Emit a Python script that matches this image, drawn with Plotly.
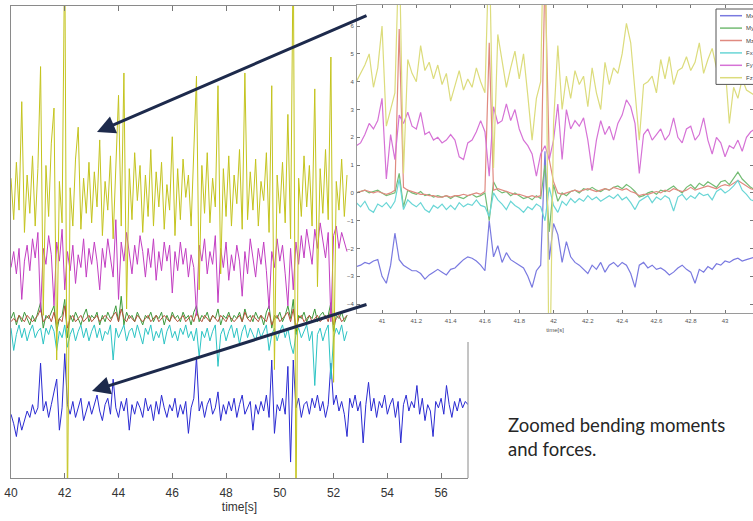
import numpy as np
import plotly.graph_objects as go

W, H = 753, 521

# ---------------- data ----------------
series_names = ["Mx", "My", "Mz", "Fx", "Fy", "Fz"]

# main (overview) chart: sampled every MAIN_DT seconds starting at MAIN_T0
MAIN_T0 = 40.0
MAIN_DT = 0.1
main_ticks = [40, 42, 44, 46, 48, 50, 52, 54, 56]

main_fz = [4.5, 3.2, 5.0, 3.5, 6.9, 2.8, 4.6, 3.4, 5.2, 3.0,
           4.8, 8.0, 0.2, 4.9, 3.3, 5.6, 6.7, -1.2, 4.4, 3.1,
           12.0, -6.0, 4.2, 3.0, 5.1, 6.1, 2.9, 4.5, 3.4, 5.0,
           3.1, 4.7, 3.6, 5.7, 2.7, 4.4, 3.5, 5.2, 2.6, 4.6,
           7.1, 3.0, 7.8, 0.4, 4.8, 3.2, 5.3, 3.8, 4.9, 2.8,
           4.6, 3.3, 5.4, 3.0, 4.7, 3.6, 5.0, 2.9, 4.3, 3.5,
           5.8, 2.7, 4.8, 3.2, 5.1, 3.9, 4.6, 3.0, 5.2, 7.7,
           1.0, 4.9, 3.4, 5.3, 3.1, 4.5, 3.6, 7.4, 1.5, 4.8,
           3.3, 5.2, 3.0, 4.6, 3.7, 5.4, 2.9, 7.8, 3.2, 4.7,
           3.5, 5.1, 3.0, 4.4, 3.8, 5.3, 2.8, 7.4, -1.5, 4.6,
           3.4, 5.0, 3.1, 6.5, 2.6, 12.0, -6.0, 4.5, 3.3, 5.2,
           3.6, 4.9, 3.0, 7.3, 1.1, 4.8, 3.4, 5.4, 3.2, 8.3,
           -1.9, 4.4, 3.5, 5.1, 3.3, 4.6]

main_fy = [1.7, 2.2, 1.5, 2.3, 0.7, 1.9, 2.4, 1.6, 2.6, 2.0,
           2.8, 0.3, 2.3, 1.8, 2.7, 2.1, 0.5, 2.5, 1.9, 2.9,
           1.0, 2.2, 1.6, 2.4, 1.2, 2.1, 1.7, 2.6, 1.4, 2.3,
           1.8, 2.5, 1.9, 1.0, 2.3, 1.7, 2.6, 2.0, 1.4, 3.2,
           0.7, 2.5, 1.9, 2.8, 2.1, 1.5, 2.4, 1.8, 2.7, 2.2,
           1.4, 2.3, 1.7, 2.6, 1.3, 2.2, 1.6, 2.5, 1.9, 2.4,
           0.9, 2.2, 1.6, 2.5, 1.8, 2.3, 1.4, 2.1, 1.7, 0.2,
           2.4, 1.9, 2.6, 1.5, 2.2, 1.8, 2.7, 0.6, 2.3, 1.7,
           2.5, 1.3, 2.1, 1.6, 2.4, 1.9, 0.8, 2.2, 1.5, 2.6,
           2.0, 1.4, 2.3, 1.8, 2.5, 1.6, 0.4, 2.2, 1.7, 2.6,
           1.9, 2.4, 1.5, 0.5, 2.3, 1.0, 2.5, 1.8, 2.7, 2.0,
           2.9, 2.4, 1.8, 2.9, 2.3, 3.1, 2.6, 2.0, 2.8, 0.0,
           2.7, 3.0, 2.3, 2.8, 2.5, 2.2]

main_my = [0.1, 0.3, -0.1, 0.2, 0.0, 0.3, 0.1, -0.1, 0.2, 0.0,
           0.3, 0.6, -0.2, 0.2, 0.1, 0.3, 0.5, -0.3, 0.1, 0.2,
           0.7, -0.5, 0.2, 0.0, 0.3, 0.1, -0.1, 0.2, 0.4, 0.0,
           0.2, 0.1, 0.3, -0.1, 0.2, 0.0, 0.3, 0.1, 0.2, 0.5,
           0.0, 0.8, -0.1, 0.3, 0.1, 0.2, 0.0, 0.3, 0.1, -0.1,
           0.2, 0.1, 0.3, 0.0, 0.2, 0.1, 0.3, -0.1, 0.2, 0.0,
           0.3, 0.1, 0.2, 0.0, 0.3, 0.1, 0.2, -0.1, 0.3, 0.5,
           0.0, 0.2, 0.1, 0.3, 0.0, 0.2, 0.1, 0.4, -0.1, 0.2,
           0.1, 0.3, 0.0, 0.2, 0.1, 0.3, 0.0, 0.4, 0.1, 0.2,
           0.0, 0.3, 0.1, 0.2, -0.1, 0.3, 0.5, -0.2, 0.2, 0.1,
           0.3, 0.0, 0.2, 0.5, 0.1, 0.7, -0.4, 0.2, 0.1, 0.3,
           0.0, 0.2, 0.1, 0.4, 0.0, 0.2, 0.3, 0.1, 0.2, 0.6,
           -0.3, 0.2, 0.1, 0.3, 0.0, 0.2]

main_mz = [0.0, 0.1, 0.0, 0.2, 0.1, 0.0, 0.2, 0.1, 0.0, 0.1,
           0.2, 0.4, 0.0, 0.1, 0.2, 0.0, 0.3, -0.1, 0.1, 0.0,
           0.5, -0.2, 0.1, 0.2, 0.0, 0.1, 0.2, 0.0, 0.1, 0.2,
           0.0, 0.1, 0.2, 0.0, 0.1, 0.2, 0.1, 0.0, 0.2, 0.3,
           0.0, 0.4, 0.1, 0.0, 0.2, 0.1, 0.0, 0.2, 0.1, 0.0,
           0.1, 0.2, 0.0, 0.1, 0.2, 0.0, 0.1, 0.2, 0.1, 0.0,
           0.2, 0.1, 0.0, 0.1, 0.2, 0.0, 0.1, 0.2, 0.0, 0.3,
           0.1, 0.0, 0.2, 0.1, 0.0, 0.2, 0.1, 0.0, 0.2, 0.1,
           0.0, 0.2, 0.1, 0.0, 0.1, 0.2, 0.0, 0.3, 0.1, 0.0,
           0.2, 0.1, 0.0, 0.2, 0.1, 0.0, 0.3, -0.1, 0.1, 0.2,
           0.0, 0.1, 0.2, 0.3, 0.0, 0.4, -0.2, 0.1, 0.2, 0.0,
           0.1, 0.2, 0.0, 0.1, 0.2, 0.0, 0.1, 0.2, 0.0, 0.4,
           -0.1, 0.1, 0.2, 0.0, 0.1, 0.2]

main_fx = [-0.2, -0.9, -0.4, -0.1, -0.5, -0.2, -0.6, -0.3, -0.1, -0.5,
           -0.3, -0.2, -0.7, -0.2, -0.4, -0.1, -0.3, -0.9, -0.3, -0.5,
           -0.1, -0.8, -0.4, -0.2, -0.6, -0.3, -0.1, -0.5, -0.2, -0.6,
           -0.3, -0.1, -0.5, -0.2, -0.6, -0.3, -0.4, -0.1, -1.2, -0.2,
           -0.5, -0.3, -0.1, -0.6, -0.3, -0.2, -0.5, -0.1, -0.4, -0.7,
           -0.2, -0.4, -0.1, -0.6, -0.3, -0.5, -0.2, -0.7, -0.3, -0.1,
           -0.5, -0.3, -0.6, -0.2, -0.4, -0.1, -0.5, -0.3, -0.6, -0.2,
           -1.1, -0.3, -0.5, -0.2, -0.6, -0.3, -0.1, -1.4, -0.4, -0.2,
           -0.6, -0.3, -0.1, -0.5, -0.2, -0.7, -0.3, -0.1, -0.5, -0.2,
           -0.4, -0.6, -0.2, -0.5, -0.3, -0.1, -0.9, -0.4, -0.2, -0.6,
           -0.3, -0.1, -0.5, -0.2, -0.7, -1.0, -0.4, -0.2, -0.5, -0.3,
           -0.1, -0.6, -0.3, -2.0, -0.4, -0.2, -0.6, -0.3, -0.1, -1.8,
           -0.5, -0.2, -0.4, -0.1, -0.6, -0.3]

main_mx = [-2.9, -3.2, -3.6, -3.0, -3.4, -3.1, -2.8, -3.0, -2.6, -2.9,
           -2.7, -1.3, -2.8, -2.5, -3.0, -2.6, -2.2, -1.8, -3.4, -2.7,
           -1.0, -2.6, -2.9, -2.5, -3.0, -2.7, -2.4, -3.1, -2.8, -2.5,
           -2.9, -2.6, -2.3, -2.8, -3.1, -2.6, -2.4, -2.9, -1.8, -2.7,
           -3.0, -2.5, -2.8, -2.4, -3.4, -2.6, -2.9, -2.5, -2.7, -3.0,
           -2.4, -2.8, -2.6, -3.1, -2.5, -2.9, -2.3, -2.7, -3.0, -2.6,
           -2.8, -2.4, -3.0, -2.6, -2.9, -2.5, -3.5, -2.7, -2.4, -1.1,
           -2.8, -2.5, -3.0, -2.6, -2.4, -2.9, -2.7, -2.2, -3.1, -2.6,
           -2.9, -2.5, -2.8, -2.4, -3.0, -2.6, -2.3, -2.9, -2.7, -2.5,
           -3.4, -2.6, -2.9, -2.5, -2.8, -2.3, -3.0, -1.2, -3.5, -2.6,
           -2.8, -2.4, -2.9, -1.4, -4.4, -1.2, -2.7, -2.4, -3.0, -2.6,
           -2.5, -2.9, -2.4, -2.7, -2.3, -2.8, -2.5, -3.0, -2.6, -1.3,
           -2.6, -2.3, -2.8, -2.5, -2.9, -3.6, -2.4, -2.7, -2.3, -2.8,
           -2.5, -3.8, -2.6, -1.9, -2.8, -2.4, -3.0, -2.5, -2.7, -2.3,
           -2.9, -2.6, -2.4, -3.0, -2.5, -3.8, -2.6, -2.3, -2.8, -2.5,
           -2.7, -2.0, -2.9, -2.4, -3.1, -2.6, -2.8, -3.6, -2.5, -2.7,
           -2.4, -2.9, -2.0, -2.6, -3.0, -2.5, -2.8, -2.4, -2.7, -2.5,
           -2.6]

# zoomed inset: sampled every INSET_DT seconds starting at INSET_T0
INSET_T0 = 40.85
INSET_DT = 0.025
inset_xticks = [41, 41.2, 41.4, 41.6, 41.8, 42, 42.2, 42.4, 42.6, 42.8, 43]
inset_yticks = [-4, -3, -2, -1, 0, 1, 2, 3, 4, 5, 6]

zoom_fz = [4.0, 4.3, 4.6, 5.0, 3.8, 4.5, 6.0, 2.4, 3.0, 3.6,
           9.0, 0.7, 4.8, 4.3, 4.0, 5.3, 4.4, 4.7, 4.1, 4.6,
           3.9, 4.3, 3.3, 3.9, 4.4, 3.7, 4.1, 3.8, 4.5, 4.0,
           3.6, 9.0, 0.9, 5.7, 4.7, 3.8, 4.5, 5.1, 4.1, 5.0,
           3.5, 1.9, 3.4, 4.0, 12.0, -8.0, 2.5, 5.3, 3.0, 4.2,
           3.4, 4.4, 3.9, 4.2, 3.1, 4.5, 3.6, 3.0, 4.7, 3.9,
           4.5, 4.3, 5.0, 6.1, 5.4, 3.5, 1.9, 3.9, 4.0, 4.2,
           3.6, 4.8, 4.1, 4.9, 3.9, 4.4, 4.5, 4.9, 4.4, 4.7,
           5.4, 4.3, 4.8, 5.2, 4.5, 4.0, 4.6, 2.5, 3.8, 3.4,
           4.1, 3.7, 3.6, 3.5]

zoom_fy = [1.7, 1.8, 2.1, 2.5, 2.3, 2.6, 3.4, 0.5, 2.1, 1.2,
           2.8, 2.5, 2.9, 2.4, 2.3, 2.9, 2.1, 2.2, 1.9, 2.0,
           1.8, 1.9, 2.1, 1.9, 1.3, 1.2, 1.8, 1.9, 2.2, 2.6,
           2.2, 0.6, 3.1, 2.5, 2.6, 3.2, 2.6, 3.0, 2.3, 1.9,
           1.7, 1.4, 0.6, 1.4, 1.7, 1.2, 1.9, 3.2, 1.2, 3.0,
           2.3, 2.6, 2.4, 2.7, 1.9, 0.8, 1.9, 2.6, 2.1, 2.4,
           1.9, 2.5, 2.8, 3.35, 3.1, 2.5, 0.7, 2.1, 2.3, 1.9,
           2.1, 2.3, 1.9, 2.1, 2.7, 2.0, 1.8, 2.3, 2.4, 1.9,
           2.1, 2.7, 1.9, 1.4, 2.0, 1.8, 1.3, 1.7, 1.6, 1.9,
           1.5, 2.0, 2.2, 2.3]

zoom_my = [0.0, 0.05, 0.1, 0.0, 0.05, 0.1, 0.0, -0.1, -0.05, 0.0,
           0.7, -0.5, 0.1, 0.0, -0.05, 0.05, -0.1, -0.05, -0.15, -0.1,
           -0.15, -0.1, -0.2, -0.1, -0.15, -0.2, -0.1, -0.05, -0.15, -0.1,
           0.0, -1.0, 0.4, 0.1, 0.0, 0.05, -0.1, 0.0, -0.1, -0.2,
           -0.15, -0.25, -0.1, -0.2, 1.0, -1.4, 0.3, -0.3, 0.0, -0.1,
           0.05, 0.1, 0.0, 0.15, 0.1, 0.2, 0.1, 0.05, 0.15, 0.1,
           0.2, 0.25, 0.15, 0.3, 0.2, 0.05, -0.15, -0.1, 0.0, 0.05,
           -0.05, 0.1, 0.05, 0.15, 0.25, 0.1, 0.0, 0.2, 0.3, 0.15,
           0.35, 0.25, 0.4, 0.3, 0.2, 0.4, 0.45, 0.3, 0.55, 0.75,
           0.5, 0.35, 0.2, 0.1]

zoom_mz = [0.0, 0.05, 0.1, 0.05, 0.0, 0.05, 0.0, -0.05, 0.0, 0.1,
           5.9, 0.2, 0.1, 0.05, 0.0, -0.05, -0.05, -0.1, -0.1, -0.15,
           -0.15, -0.1, -0.15, -0.1, -0.1, -0.05, -0.1, -0.05, 0.0, -0.05,
           0.05, 5.4, 0.1, 0.15, 0.1, 0.05, 0.0, -0.05, -0.05, -0.1,
           -0.15, -0.1, -0.15, -0.1, 8.0, 1.2, 0.4, 0.0, -0.05, 0.0,
           0.05, 0.1, 0.05, 0.1, 0.15, 0.1, 0.05, 0.1, 0.15, 0.1,
           0.2, 0.15, 0.1, 0.15, 0.05, 0.0, -0.1, -0.05, -0.05, 0.0,
           0.05, 0.0, 0.1, 0.05, 0.15, 0.1, 0.05, 0.1, 0.2, 0.1,
           0.15, 0.2, 0.25, 0.2, 0.15, 0.25, 0.3, 0.25, 0.35, 0.45,
           0.35, 0.25, 0.15, 0.1]

zoom_fx = [-0.35, -0.5, -0.3, -0.6, -0.7, -0.4, -0.5, -0.35, -0.55, -0.3,
           0.5, -0.6, -0.25, -0.4, -0.5, -0.35, -0.6, -0.7, -0.45, -0.55,
           -0.4, -0.6, -0.45, -0.6, -0.35, -0.5, -0.4, -0.45, -0.25, -0.45,
           -0.5, -0.85, 0.0, -0.25, -0.4, -0.6, -0.3, -0.45, -0.55, -0.7,
           -0.5, -0.6, -0.4, -0.5, -1.0, 0.2, -0.45, -0.7, -0.3, -0.45,
           -0.2, -0.35, -0.2, -0.3, -0.1, -0.25, -0.15, -0.3, -0.2, -0.1,
           -0.2, -0.05, -0.25, -0.15, -0.35, -0.6, -0.3, -0.2, -0.1, -0.35,
           -0.15, -0.25, -0.1, -0.2, -0.65, -0.15, -0.05, -0.25, -0.1, -0.2,
           0.0, -0.1, -0.05, -0.25, 0.05, 0.15, 0.0, 0.1, 0.25, 0.45,
           0.1, -0.05, -0.25, -0.3]

zoom_mx = [-2.65, -2.6, -2.5, -2.55, -2.45, -2.4, -3.0, -3.25, -2.6, -1.45,
           -2.4, -2.6, -2.7, -2.8, -2.8, -2.9, -3.1, -2.95, -2.85, -2.75,
           -2.85, -2.95, -2.75, -2.7, -2.55, -2.4, -2.3, -2.35, -2.45, -2.6,
           -2.8, -1.0, -2.3, -1.9, -2.5, -2.15, -2.4, -2.5, -2.6, -2.7,
           -3.0, -3.4, -2.8, -2.6, 1.5, -2.4, -1.1, -1.5, -2.5, -1.75,
           -2.3, -2.5, -2.6, -2.75, -2.9, -2.6, -2.75, -2.5, -2.85, -2.6,
           -2.5, -2.65, -2.5, -2.6, -2.9, -3.4, -2.6, -2.5, -2.7, -2.6,
           -2.75, -2.7, -2.8, -2.95, -2.85, -2.7, -2.6, -2.75, -2.85, -3.25,
           -2.75, -2.85, -2.65, -2.75, -2.55, -2.6, -2.45, -2.5, -2.4, -2.35,
           -2.45, -2.4, -2.35, -2.3]

# ---------------- styling ----------------
main_colors = {"Mx": "#2a2ad2", "My": "#3c9a3c", "Mz": "#b4503a",
               "Fx": "#2cc4c4", "Fy": "#c23ec2", "Fz": "#c4c41e"}
inset_colors = {"Mx": "#7a7ae0", "My": "#74bc74", "Mz": "#e08a80",
                "Fx": "#6ad6d6", "Fy": "#d672d6", "Fz": "#dcdc7c"}

main_data = {"Mx": main_mx, "My": main_my, "Mz": main_mz,
             "Fx": main_fx, "Fy": main_fy, "Fz": main_fz}
zoom_data = {"Mx": zoom_mx, "My": zoom_my, "Mz": zoom_mz,
             "Fx": zoom_fx, "Fy": zoom_fy, "Fz": zoom_fz}


def sample_times(t0, dt, n):
    return np.round(t0 + dt * np.arange(n), 4)


def px_x(p):
    """window pixel x -> paper fraction"""
    return p / W


def px_y(p):
    """window pixel y -> paper fraction"""
    return 1 - p / H


MAIN_XR = [40.0, 57.0]
MAIN_YR = [-4.9, 9.9]
INSET_XR = [40.854, 43.163]
INSET_YR = [-4.32, 6.76]

fig = go.Figure()

for name in series_names:
    vals = main_data[name]
    fig.add_trace(go.Scatter(
        x=sample_times(MAIN_T0, MAIN_DT, len(vals)), y=vals, mode="lines",
        line=dict(color=main_colors[name], width=1), name=name,
        showlegend=False, xaxis="x", yaxis="y", hoverinfo="skip"))

for name in series_names:
    vals = zoom_data[name]
    fig.add_trace(go.Scatter(
        x=sample_times(INSET_T0, INSET_DT, len(vals)), y=vals, mode="lines",
        line=dict(color=inset_colors[name], width=1.2), name=name,
        showlegend=False, xaxis="x2", yaxis="y2", hoverinfo="skip"))

axis_font = dict(family="Liberation Sans, Arial, sans-serif", size=12, color="#333333")
small_font = dict(family="Liberation Sans, Arial, sans-serif", size=6, color="#555555")

fig.update_layout(
    width=W, height=H,
    margin=dict(l=0, r=0, t=0, b=0),
    paper_bgcolor="white", plot_bgcolor="white",
    showlegend=False,
    hovermode=False,
    xaxis=dict(domain=[px_x(11), px_x(468)], range=MAIN_XR, anchor="y",
               tickvals=main_ticks, ticks="inside", ticklen=5, tickcolor="#777",
               showline=True, linecolor="#8a8a8a", linewidth=1, mirror="ticks",
               showgrid=False, zeroline=False, tickfont=axis_font,
               ticklabelstandoff=4, automargin=False,
               title=dict(text="time[s]", font=axis_font, standoff=2)),
    yaxis=dict(domain=[px_y(478), px_y(6)], range=MAIN_YR, anchor="x",
               showticklabels=False, ticks="", showline=True,
               linecolor="#8a8a8a", linewidth=1, showgrid=False,
               zeroline=False, automargin=False),
    xaxis2=dict(domain=[px_x(357), 1.0], range=INSET_XR, anchor="y2",
                tickvals=inset_xticks, ticks="inside", ticklen=3, tickcolor="#777",
                showline=True, linecolor="#9a9a9a", linewidth=1, mirror="ticks",
                showgrid=False, zeroline=False, tickfont=small_font,
                ticklabelstandoff=2, automargin=False,
                title=dict(text="time[s]", font=small_font, standoff=4)),
    yaxis2=dict(domain=[px_y(313), px_y(5)], range=INSET_YR, anchor="x2",
                tickvals=inset_yticks, ticks="inside", ticklen=3, tickcolor="#777",
                showline=True, linecolor="#9a9a9a", linewidth=1, mirror="ticks",
                showgrid=False, zeroline=False, tickfont=small_font,
                ticklabelstandoff=1, automargin=False),
)

# white panel behind the inset (hides the overview chart beneath it)
fig.add_shape(type="rect", xref="x2", yref="y2",
              x0=INSET_XR[0], x1=INSET_XR[1], y0=INSET_YR[0], y1=INSET_YR[1],
              fillcolor="white", line=dict(width=0), layer="below")

# right border of the overview chart (only the part not covered by the inset)
fig.add_shape(type="line", xref="paper", yref="paper",
              x0=px_x(468), x1=px_x(468), y0=px_y(342), y1=px_y(478),
              line=dict(color="#8a8a8a", width=1), layer="above")

# inset legend box (compact, like the original)
LEG_LEFT, LEG_TOP, LEG_ROW = 716, 9, 12.4
fig.add_shape(type="rect", xref="paper", yref="paper",
              x0=px_x(LEG_LEFT), x1=px_x(LEG_LEFT + 60),
              y0=px_y(LEG_TOP + LEG_ROW * len(series_names) + 1), y1=px_y(LEG_TOP),
              fillcolor="white", line=dict(color="#555555", width=1), layer="above")
for i, name in enumerate(series_names):
    yy = LEG_TOP + 6.7 + LEG_ROW * i
    fig.add_shape(type="line", xref="paper", yref="paper",
                  x0=px_x(LEG_LEFT + 4), x1=px_x(LEG_LEFT + 26), y0=px_y(yy), y1=px_y(yy),
                  line=dict(color=inset_colors[name], width=1.5), layer="above")
    fig.add_annotation(x=px_x(LEG_LEFT + 28), y=px_y(yy), xref="paper", yref="paper",
                       xanchor="left", yanchor="middle", showarrow=False, text=name,
                       font=dict(family="Liberation Sans, Arial, sans-serif", size=6, color="#444"))

# arrows pointing from the inset to the overview
arrow_color = "#1d2a4c"
for tip, tail in [((97, 132), (368, 15)), ((92, 391), (368, 304))]:
    fig.add_annotation(x=px_x(tip[0]), y=px_y(tip[1]), xref="paper", yref="paper",
                       ax=tail[0] - tip[0], ay=tail[1] - tip[1],
                       showarrow=True, arrowhead=2, arrowsize=1.2,
                       arrowwidth=3, arrowcolor=arrow_color, standoff=0, text="")

fig.add_annotation(x=px_x(506), y=px_y(412), xref="paper", yref="paper",
                   xanchor="left", yanchor="top", align="left", showarrow=False,
                   text="Zoomed bending moments<br>and forces.",
                   font=dict(family="Lato, Open Sans, sans-serif", size=18.5, color="#262626"))

# the page is exactly the window size: drop the default body margin, hide the modebar
fig.write_html("out.html",
               config={"displayModeBar": False, "staticPlot": True},
               post_script="document.body.style.margin='0';document.body.style.overflow='hidden';")
